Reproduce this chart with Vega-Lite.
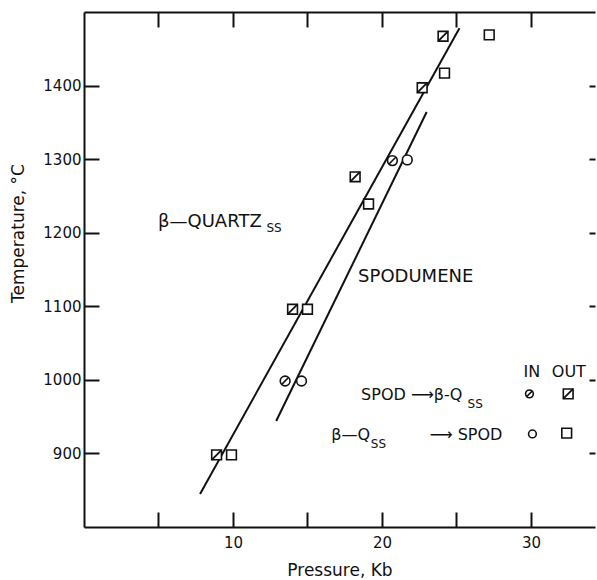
{
  "$schema": "https://vega.github.io/schema/vega-lite/v6.json",
  "width": 511,
  "height": 515,
  "autosize": {"type": "none"},
  "padding": {"left": 84, "top": 12, "right": 2, "bottom": 53},
  "background": "white",
  "config": {
    "view": {"stroke": null},
    "font": "DejaVu Sans",
    "axis": {
      "grid": false,
      "domainColor": "#111",
      "domainWidth": 2,
      "tickColor": "#111",
      "tickWidth": 2,
      "labelColor": "#111",
      "titleColor": "#111",
      "labelFont": "DejaVu Sans",
      "titleFont": "DejaVu Sans",
      "titleFontWeight": "normal",
      "labelFontSize": 15,
      "titleFontSize": 17
    }
  },
  "datasets": {
    "lines": [
      {"line": "upper", "p": 7.79, "t": 845},
      {"line": "upper", "p": 25.2, "t": 1478},
      {"line": "lower", "p": 12.9, "t": 944},
      {"line": "lower", "p": 23.0, "t": 1364}
    ],
    "points": [
      {"p": 24.1, "t": 1467, "sym": "square", "hatched": true, "role": "data"},
      {"p": 27.2, "t": 1469, "sym": "square", "hatched": false, "role": "data"},
      {"p": 24.2, "t": 1417, "sym": "square", "hatched": false, "role": "data"},
      {"p": 22.7, "t": 1397, "sym": "square", "hatched": true, "role": "data"},
      {"p": 20.7, "t": 1298, "sym": "circle", "hatched": true, "role": "data"},
      {"p": 21.7, "t": 1299, "sym": "circle", "hatched": false, "role": "data"},
      {"p": 18.2, "t": 1276, "sym": "square", "hatched": true, "role": "data"},
      {"p": 19.1, "t": 1239, "sym": "square", "hatched": false, "role": "data"},
      {"p": 14.0, "t": 1096, "sym": "square", "hatched": true, "role": "data"},
      {"p": 15.0, "t": 1096, "sym": "square", "hatched": false, "role": "data"},
      {"p": 13.5, "t": 998.5, "sym": "circle", "hatched": true, "role": "data"},
      {"p": 14.6, "t": 998.5, "sym": "circle", "hatched": false, "role": "data"},
      {"p": 8.9, "t": 898, "sym": "square", "hatched": true, "role": "data"},
      {"p": 9.9, "t": 898, "sym": "square", "hatched": false, "role": "data"},
      {"p": 29.9, "t": 981, "sym": "circle", "hatched": true, "role": "key"},
      {"p": 32.5, "t": 981, "sym": "square", "hatched": true, "role": "key"},
      {"p": 30.1, "t": 926.5, "sym": "circle", "hatched": false, "role": "key"},
      {"p": 32.4, "t": 927.5, "sym": "square", "hatched": false, "role": "key"}
    ],
    "labels": [
      {"p": 4.97, "t": 1207.5, "text": "β—QUARTZ", "kind": "main"},
      {"p": 18.4, "t": 1133, "text": "SPODUMENE", "kind": "main"},
      {"p": 29.5, "t": 1004, "text": "IN", "kind": "legend"},
      {"p": 31.4, "t": 1004, "text": "OUT", "kind": "legend"},
      {"p": 18.6, "t": 972.6, "text": "SPOD ⟶β-Q", "kind": "legend"},
      {"p": 16.6, "t": 918.3, "text": "β—Q", "kind": "legend"},
      {"p": 23.2, "t": 918.3, "text": "⟶ SPOD", "kind": "legend"},
      {"p": 12.25, "t": 1201, "text": "SS", "kind": "sub"},
      {"p": 25.75, "t": 961.7, "text": "SS", "kind": "sub"},
      {"p": 19.25, "t": 907.4, "text": "SS", "kind": "sub"}
    ]
  },
  "layer": [
    {
      "data": {"name": "lines"},
      "mark": {"type": "line", "color": "#111", "strokeWidth": 2},
      "encoding": {
        "x": {
          "field": "p", "type": "quantitative",
          "scale": {"domain": [0, 34.3], "nice": false, "zero": false},
          "axis": {
            "orient": "bottom",
            "values": [5, 10, 15, 20, 25, 30],
            "tickSize": -15,
            "labelPadding": 23,
            "format": "d",
            "labelExpr": "datum.value % 10 === 0 ? datum.label : ''",
            "title": "Pressure, Kb",
            "titleY": 48,
            "titleBaseline": "alphabetic",
            "titleFontSize": 17
          }
        },
        "y": {
          "field": "t", "type": "quantitative",
          "scale": {"domain": [800, 1500], "nice": false, "zero": false},
          "axis": {
            "orient": "left",
            "values": [900, 1000, 1100, 1200, 1300, 1400],
            "tickSize": -15,
            "labelPadding": 18,
            "format": "d",
            "title": "Temperature, °C",
            "titleX": -66,
            "titleY": 221,
            "titleAlign": "center",
            "titleBaseline": "middle",
            "titleFontSize": 17
          }
        },
        "detail": {"field": "line"}
      }
    },
    {
      "data": {"name": "points"},
      "transform": [{"filter": "datum.sym === 'square'"}],
      "mark": {"type": "point", "shape": "square", "filled": true, "fill": "white", "stroke": "#111", "strokeWidth": 1.6, "size": 95, "opacity": 1},
      "encoding": {
        "x": {
          "field": "p", "type": "quantitative",
          "scale": {"domain": [0, 34.3], "nice": false, "zero": false},
          "axis": {
            "orient": "top",
            "values": [5, 10, 15, 20, 25, 30],
            "tickSize": -15,
            "labels": false,
            "title": null
          }
        },
        "y": {
          "field": "t", "type": "quantitative",
          "scale": {"domain": [800, 1500], "nice": false, "zero": false},
          "axis": {
            "orient": "right",
            "values": [900, 1000, 1100, 1200, 1300, 1400],
            "tickSize": -6,
            "domain": false,
            "labels": false,
            "title": null
          }
        }
      }
    },
    {
      "data": {"name": "points"},
      "transform": [{"filter": "datum.sym === 'circle'"}],
      "mark": {"type": "point", "shape": "circle", "filled": true, "fill": "white", "stroke": "#111", "strokeWidth": 1.6, "opacity": 1},
      "encoding": {
        "x": {"field": "p", "type": "quantitative", "axis": null},
        "y": {"field": "t", "type": "quantitative", "axis": null},
        "size": {"field": "role", "type": "nominal", "scale": {"domain": ["data", "key"], "range": [95, 60]}, "legend": null}
      }
    },
    {
      "data": {"name": "points"},
      "transform": [{"filter": "datum.sym === 'square' && datum.hatched"}],
      "mark": {"type": "point", "shape": "M-1,1L1,-1", "filled": false, "stroke": "#111", "strokeWidth": 1.8, "size": 95, "opacity": 1},
      "encoding": {
        "x": {"field": "p", "type": "quantitative", "axis": null},
        "y": {"field": "t", "type": "quantitative", "axis": null}
      }
    },
    {
      "data": {"name": "points"},
      "transform": [{"filter": "datum.sym === 'circle' && datum.hatched"}],
      "mark": {"type": "point", "shape": "M-0.7,0.7L0.7,-0.7", "filled": false, "stroke": "#111", "strokeWidth": 1.6, "opacity": 1},
      "encoding": {
        "x": {"field": "p", "type": "quantitative", "axis": null},
        "y": {"field": "t", "type": "quantitative", "axis": null},
        "size": {"field": "role", "type": "nominal", "scale": {"domain": ["data", "key"], "range": [95, 60]}, "legend": null}
      }
    },
    {
      "data": {"name": "labels"},
      "transform": [{"filter": "datum.kind === 'main'"}],
      "mark": {"type": "text", "align": "left", "baseline": "alphabetic", "fontSize": 18, "color": "#111", "font": "DejaVu Sans"},
      "encoding": {
        "x": {"field": "p", "type": "quantitative", "axis": null},
        "y": {"field": "t", "type": "quantitative", "axis": null},
        "text": {"field": "text"}
      }
    },
    {
      "data": {"name": "labels"},
      "transform": [{"filter": "datum.kind === 'legend'"}],
      "mark": {"type": "text", "align": "left", "baseline": "alphabetic", "fontSize": 16, "color": "#111", "font": "DejaVu Sans"},
      "encoding": {
        "x": {"field": "p", "type": "quantitative", "axis": null},
        "y": {"field": "t", "type": "quantitative", "axis": null},
        "text": {"field": "text"}
      }
    },
    {
      "data": {"name": "labels"},
      "transform": [{"filter": "datum.kind === 'sub'"}],
      "mark": {"type": "text", "align": "left", "baseline": "alphabetic", "fontSize": 12, "color": "#111", "font": "DejaVu Sans"},
      "encoding": {
        "x": {"field": "p", "type": "quantitative", "axis": null},
        "y": {"field": "t", "type": "quantitative", "axis": null},
        "text": {"field": "text"}
      }
    }
  ],
  "resolve": {"axis": {"x": "independent", "y": "independent"}}
}
